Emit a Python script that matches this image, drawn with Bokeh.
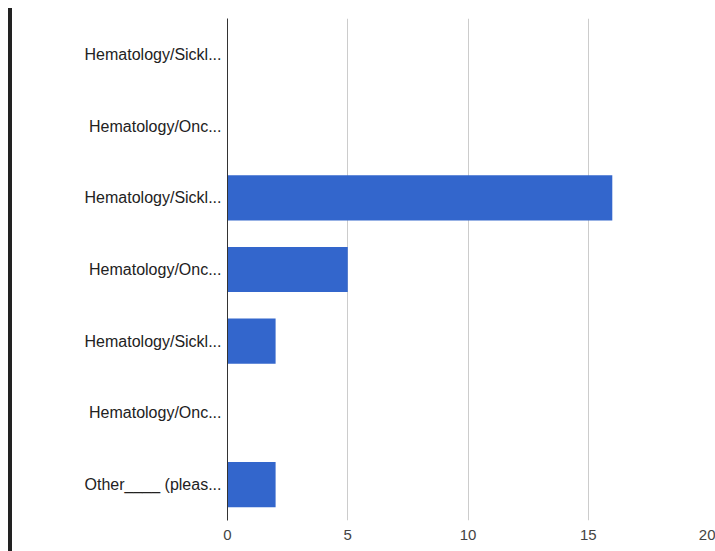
from bokeh.plotting import figure
from bokeh.models import FixedTicker, Range1d, Div
from bokeh.layouts import row
from bokeh.embed import file_html
from bokeh.resources import INLINE

categories = [
    "Hematology/Sickl...",
    "Hematology/Onc...",
    "Hematology/Sickl...",
    "Hematology/Onc...",
    "Hematology/Sickl...",
    "Hematology/Onc...",
    "Other____ (pleas...",
]
values = [0, 0, 16, 5, 2, 0, 2]
x_ticks = [0, 5, 10, 15, 20]

n = len(categories)
ypos = [n - 1 - i for i in range(n)]

FONT = "Liberation Sans"

p = figure(
    width=703, height=551,
    output_backend="svg", toolbar_location=None,
    x_range=Range1d(0, 20), y_range=Range1d(-0.5, n - 0.5),
    min_border_left=215, min_border_right=7,
    min_border_top=18, min_border_bottom=31,
)
p.outline_line_color = None
p.background_fill_color = "white"

p.hbar(y=ypos, left=0, right=values, height=0.63,
       fill_color="#3366cc", line_color=None)

# x axis
p.xaxis.ticker = FixedTicker(ticks=x_ticks)
p.xaxis.axis_line_color = None
p.xaxis.major_tick_line_color = None
p.xaxis.minor_tick_line_color = None
p.xaxis.major_label_standoff = 3
p.xaxis.major_label_text_font = FONT
p.xaxis.major_label_text_font_size = "15px"
p.xaxis.major_label_text_color = "#444444"

# y axis
p.yaxis.ticker = FixedTicker(ticks=ypos)
p.yaxis.major_label_overrides = {y: c for y, c in zip(ypos, categories)}
p.yaxis.axis_line_color = "#333333"
p.yaxis.axis_line_width = 1
p.yaxis.major_tick_line_color = None
p.yaxis.minor_tick_line_color = None
p.yaxis.major_label_standoff = 0
p.yaxis.major_label_text_font = FONT
p.yaxis.major_label_text_font_size = "16px"
p.yaxis.major_label_text_color = "#222222"

p.xgrid.grid_line_color = "#cccccc"
p.ygrid.grid_line_color = None

bar = Div(width=4, height=543, margin=(8, 0, 0, 8),
          styles={"background-color": "#222222"})

layout = row(bar, p, spacing=0)

open("out.html", "w").write(file_html(layout, INLINE))
